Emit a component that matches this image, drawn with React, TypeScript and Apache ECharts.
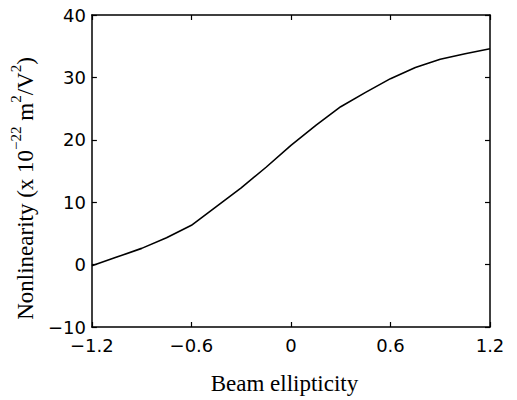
import React, { useEffect, useRef } from "react";
import * as echarts from "echarts";

const ellipticity = [-1.2, -1.05, -0.9, -0.75, -0.6, -0.45, -0.3, -0.15, 0, 0.15, 0.3, 0.45, 0.6, 0.75, 0.9, 1.05, 1.2];
const nonlinearity = [-0.2, 1.2, 2.6, 4.3, 6.3, 9.3, 12.3, 15.6, 19.1, 22.3, 25.3, 27.6, 29.8, 31.6, 32.9, 33.8, 34.6];
const xTicks = { min: -1.2, max: 1.2, interval: 0.6 };
const yTicks = { min: -10, max: 40, interval: 10 };

const LABEL_FONT = "DejaVu Sans";
const SERIF = "Liberation Serif";

function fmtX(v: number) {
  if (Math.abs(v) < 1e-9) return "0";
  return v.toFixed(1).replace("-", "\u2212");
}
function fmtY(v: number) {
  return String(Math.round(v)).replace("-", "\u2212");
}

export default function App() {
  const ref = useRef<HTMLDivElement>(null);
  useEffect(() => {
    if (!ref.current) return;
    const chart = echarts.init(ref.current, null, { renderer: "svg" });
    const axisLine = { show: true, onZero: false, lineStyle: { color: "#000", width: 1.5 } };
    const tick = { show: true, inside: true, length: 5, lineStyle: { color: "#000", width: 1.2 } };
    chart.setOption({
      animation: false,
      backgroundColor: "#fff",
      grid: { left: 87, right: 27, top: 15, bottom: 66, containLabel: false },
      xAxis: [
        {
          type: "value",
          min: xTicks.min,
          max: xTicks.max,
          interval: xTicks.interval,
          axisLine,
          axisTick: tick,
          splitLine: { show: false },
          axisLabel: { color: "#000", fontFamily: LABEL_FONT, fontSize: 18, margin: 9, formatter: fmtX },
          name: "Beam ellipticity",
          nameLocation: "middle",
          nameGap: 45,
          nameTextStyle: { color: "#000", fontFamily: SERIF, fontSize: 23, padding: [0, 13, 0, 0] },
        },
        {
          type: "value",
          position: "top",
          min: xTicks.min,
          max: xTicks.max,
          interval: xTicks.interval,
          axisLine,
          axisTick: tick,
          splitLine: { show: false },
          axisLabel: { show: false },
        },
      ],
      yAxis: [
        {
          type: "value",
          min: yTicks.min,
          max: yTicks.max,
          interval: yTicks.interval,
          axisLine,
          axisTick: tick,
          splitLine: { show: false },
          axisLabel: { color: "#000", fontFamily: LABEL_FONT, fontSize: 18, margin: 6, formatter: fmtY },
          name: "{n|Nonlinearity (x 10}{s|\u221222}{n| m}{s|2}{n|/V}{s|2}{n|)}",
          nameLocation: "middle",
          nameGap: 50,
          nameTextStyle: {
            color: "#000",
            fontFamily: SERIF,
            fontSize: 23,
            padding: [0, 35, 0, 0],
            rich: {
              n: { fontFamily: SERIF, fontSize: 23, color: "#000", lineHeight: 29, verticalAlign: "bottom" },
              s: { fontFamily: SERIF, fontSize: 15, color: "#000", lineHeight: 18, verticalAlign: "top" },
            },
          },
        },
        {
          type: "value",
          position: "right",
          min: yTicks.min,
          max: yTicks.max,
          interval: yTicks.interval,
          axisLine,
          axisTick: tick,
          splitLine: { show: false },
          axisLabel: { show: false },
        },
      ],
      series: [
        {
          type: "line",
          data: ellipticity.map((x, i) => [x, nonlinearity[i]]),
          showSymbol: false,
          lineStyle: { color: "#000", width: 1.6 },
          xAxisIndex: 0,
          yAxisIndex: 0,
        },
      ],
    });
    return () => chart.dispose();
  }, []);
  return <div ref={ref} style={{ width: 517, height: 400, position: "absolute", left: 0, top: 0 }} />;
}
